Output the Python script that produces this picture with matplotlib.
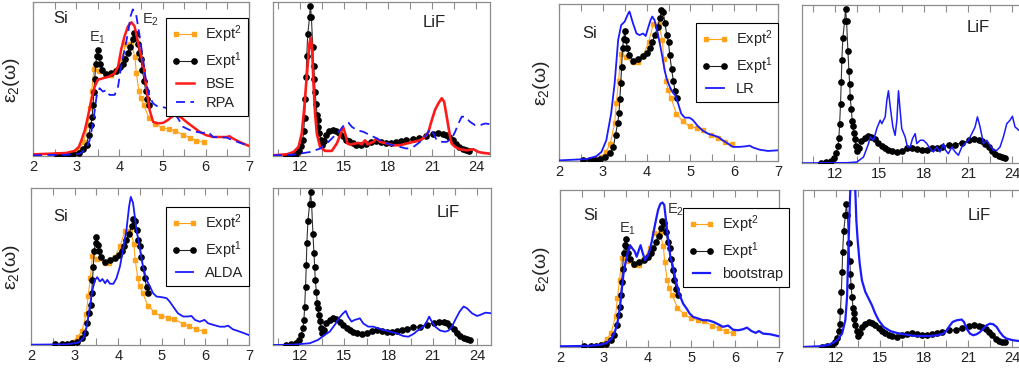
import matplotlib
matplotlib.use("Agg")
import matplotlib.pyplot as plt
from matplotlib.ticker import MultipleLocator

plt.rcParams['font.family'] = ['Liberation Sans', 'DejaVu Sans']
plt.rcParams['mathtext.fontset'] = 'custom'
plt.rcParams['mathtext.rm'] = 'Liberation Sans'
plt.rcParams['mathtext.it'] = 'Liberation Sans:italic'

# ---- Si: experiments (eV, eps2) ----
si_expt1_x = [2.55, 2.70, 2.82, 2.93, 3.06, 3.16, 3.24, 3.29, 3.34, 3.37, 3.39, 3.41, 3.43, 3.45,
              3.48, 3.50, 3.53, 3.56, 3.60, 3.69, 3.81, 3.92, 4.02, 4.08, 4.13, 4.19, 4.25, 4.31,
              4.34, 4.38, 4.42, 4.46, 4.50, 4.53, 4.57, 4.61, 4.65, 4.69]
si_expt1_y = [0.4, 0.3, 0.4, 0.7, 1.3, 2.6, 4.4, 8.3, 12.1, 15.3, 19.8, 24.9, 30.0, 36.0,
              39.0, 41.4, 38.4, 36.0, 33.6, 31.8, 32.4, 33.3, 34.5, 36.0, 37.8, 40.2, 42.6, 45.6,
              48.0, 47.4, 43.8, 40.2, 37.8, 33.6, 29.4, 25.5, 22.2, 20.0]
si_expt2_x = [2.55, 2.70, 2.84, 2.97, 3.07, 3.17, 3.27, 3.31, 3.36, 3.41, 3.52, 3.69, 3.80, 3.92,
              4.05, 4.15, 4.28, 4.36, 4.39, 4.45, 4.49, 4.56, 4.68, 4.83, 4.98, 5.14, 5.29, 5.48,
              5.63, 5.78, 5.96]
si_expt2_y = [0.2, 0.3, 0.5, 1.3, 2.9, 5.5, 12.0, 18.6, 25.5, 34.0, 33.0, 31.5, 31.5, 33.5,
              38.0, 43.5, 43.5, 38.5, 32.5, 25.5, 22.5, 20.0, 15.0, 12.6, 11.0, 10.5, 9.8, 8.2,
              7.2, 6.0, 5.3]

# ---- Si: theory ----
si_bse_x = [2.00, 2.39, 2.77, 2.96, 3.06, 3.12, 3.20, 3.27, 3.35, 3.43, 3.50, 3.62, 3.77, 3.89,
            3.97, 4.04, 4.12, 4.20, 4.28, 4.35, 4.47, 4.56, 4.62, 4.70, 4.78, 4.89, 5.01, 5.12,
            5.24, 5.32, 5.43, 5.55, 5.70, 5.86, 6.01, 6.17, 6.32, 6.48, 6.55, 6.63, 6.78, 7.00]
si_bse_y = [0.65, 0.9, 1.2, 2.0, 3.5, 6.1, 10.1, 15.3, 21.8, 27.1, 29.7, 30.3, 31.0, 32.3,
            34.9, 41.4, 46.7, 50.6, 52.1, 50.6, 41.4, 34.9, 27.1, 17.9, 13.3, 12.7, 12.9, 14.0,
            15.6, 15.9, 15.0, 13.3, 11.4, 9.4, 8.1, 7.4, 7.4, 7.4, 7.7, 6.8, 5.5, 3.9]
si_rpa_x = [2.00, 2.77, 3.08, 3.23, 3.31, 3.39, 3.47, 3.54, 3.62, 3.70, 3.77, 3.89, 3.97, 4.04,
            4.12, 4.20, 4.26, 4.31, 4.38, 4.47, 4.55, 4.62, 4.70, 4.78, 4.89, 5.01, 5.12, 5.24,
            5.36, 5.47, 5.63, 5.78, 5.94, 6.05, 6.17, 6.48, 6.63, 7.00]
si_rpa_y = [0.26, 0.5, 0.9, 2.9, 6.1, 12.7, 23.1, 26.4, 25.1, 25.7, 23.8, 23.8, 27.1, 34.9,
            41.4, 48.0, 54.5, 57.1, 55.8, 46.7, 37.5, 28.4, 23.1, 20.5, 19.2, 19.0, 18.6, 17.3,
            14.6, 11.4, 10.1, 9.4, 9.0, 9.4, 7.4, 7.2, 6.1, 3.9]
si_alda_x = [2.00, 2.82, 3.08, 3.20, 3.27, 3.35, 3.41, 3.47, 3.52, 3.58, 3.64, 3.70, 3.75, 3.81,
             3.89, 3.96, 4.04, 4.11, 4.19, 4.25, 4.29, 4.34, 4.42, 4.50, 4.57, 4.65, 4.73, 4.80,
             4.88, 4.99, 5.11, 5.18, 5.26, 5.37, 5.49, 5.60, 5.68, 5.76, 5.87, 5.98, 6.06, 6.18,
             6.33, 6.44, 6.52, 6.63, 6.79, 7.00]
si_alda_y = [0.13, 0.26, 0.9, 2.6, 6.4, 14.7, 21.1, 24.9, 25.9, 24.3, 25.2, 23.6, 24.9, 23.4,
             23.4, 25.5, 30.0, 36.4, 44.1, 53.0, 56.6, 54.3, 44.1, 36.4, 30.0, 24.9, 22.3, 19.8,
             18.5, 18.3, 17.9, 16.6, 14.7, 12.1, 10.9, 10.9, 11.1, 9.6, 8.9, 9.6, 8.3, 7.7,
             7.0, 7.0, 7.4, 6.0, 5.1, 3.8]
si_lr_x = [2.00, 2.62, 2.85, 2.97, 3.08, 3.19, 3.27, 3.35, 3.42, 3.50, 3.58, 3.61, 3.69, 3.77,
           3.84, 3.92, 3.98, 4.03, 4.09, 4.13, 4.18, 4.24, 4.30, 4.36, 4.41, 4.47, 4.53, 4.59,
           4.65, 4.72, 4.79, 4.87, 4.98, 5.06, 5.17, 5.29, 5.40, 5.52, 5.63, 5.74, 5.86, 5.97,
           6.12, 6.28, 6.35, 6.43, 6.58, 6.77, 7.00]
si_lr_y = [0.2, 0.6, 1.5, 2.9, 6.6, 15.1, 24.7, 38.5, 43.3, 44.4, 47.0, 47.6, 43.8, 40.6,
           40.1, 40.6, 39.8, 42.2, 44.9, 46.0, 44.9, 41.7, 37.5, 33.2, 28.9, 25.7, 23.6, 22.0,
           21.0, 18.3, 15.1, 13.8, 13.8, 13.0, 11.1, 9.6, 8.7, 8.2, 7.7, 6.6, 5.5, 4.5,
           4.5, 4.7, 4.9, 4.3, 3.6, 3.2, 3.4]
si_boot_x = [2.00, 2.61, 2.91, 3.06, 3.18, 3.25, 3.31, 3.37, 3.41, 3.45, 3.50, 3.56, 3.60, 3.65,
             3.71, 3.75, 3.80, 3.84, 3.88, 3.94, 4.01, 4.07, 4.13, 4.19, 4.24, 4.29, 4.34, 4.38,
             4.42, 4.47, 4.52, 4.58, 4.64, 4.72, 4.81, 4.89, 4.96, 5.04, 5.15, 5.27, 5.38, 5.50,
             5.61, 5.72, 5.84, 5.95, 6.07, 6.18, 6.27, 6.37, 6.47, 6.54, 6.64, 6.79, 7.00]
si_boot_y = [0.26, 0.4, 0.8, 1.5, 3.2, 5.7, 8.9, 15.3, 21.7, 28.1, 32.6, 37.0, 38.9, 37.7,
             36.4, 34.5, 37.0, 38.9, 36.4, 33.2, 35.1, 38.3, 43.4, 48.5, 52.4, 54.7, 55.2, 54.3,
             48.5, 40.9, 34.5, 30.6, 25.5, 20.4, 16.6, 14.7, 12.8, 11.5, 10.9, 10.2, 10.2, 9.6,
             8.7, 7.7, 8.2, 6.6, 6.4, 6.8, 7.4, 6.1, 5.4, 6.1, 5.1, 4.9, 4.1]

# ---- LiF: experiment ----
lif_expt_x = [11.05, 11.39, 11.73, 11.91, 12.07, 12.18, 12.25, 12.30, 12.36, 12.41, 12.45, 12.52,
              12.64, 12.70, 12.77, 12.86, 12.93, 12.98, 13.02, 13.09, 13.16, 13.20, 13.25, 13.32,
              13.41, 13.50, 13.61, 13.77, 14.00, 14.23, 14.45, 14.68, 14.91, 15.14, 15.36, 15.59,
              15.82, 16.16, 16.50, 16.84, 17.18, 17.52, 17.86, 18.20, 18.55, 18.89, 19.23, 19.68,
              20.14, 20.59, 21.05, 21.39, 21.73, 21.95, 22.18, 22.41, 22.64, 22.86, 23.09, 23.32,
              23.50]
lif_expt_y = [0.0, 0.04, 0.15, 0.32, 0.64, 1.06, 1.6, 2.45, 3.72, 5.1, 6.5, 7.9,
              9.0, 9.75, 9.0, 7.1, 5.85, 5.0, 4.15, 3.4, 2.66, 2.34, 1.9, 1.5,
              1.06, 0.74, 0.96, 1.38, 1.6, 1.7, 1.64, 1.49, 1.28, 1.06, 0.96, 0.85,
              0.74, 0.70, 0.79, 0.92, 0.96, 0.89, 0.85, 0.83, 0.92, 0.98, 1.04, 1.13,
              1.17, 1.28, 1.43, 1.49, 1.45, 1.38, 1.23, 1.02, 0.79, 0.57, 0.43, 0.36,
              0.32]

# ---- LiF: theory ----
lif_bse_x = [10.14, 11.09, 11.55, 11.89, 12.11, 12.27, 12.45, 12.64, 12.73, 12.82, 12.91, 13.02,
             13.14, 13.36, 13.70, 14.16, 14.50, 14.73, 14.86, 14.95, 15.07, 15.23, 15.41, 15.75,
             15.98, 16.20, 16.43, 16.59, 17.00, 17.23, 17.45, 17.91, 18.36, 18.82, 19.27, 19.73,
             20.18, 20.52, 20.75, 20.98, 21.20, 21.43, 21.66, 21.82, 22.00, 22.23, 22.34, 22.57,
             22.91, 23.36, 23.82, 24.16, 24.50, 24.95]
lif_bse_y = [0.04, 0.11, 0.26, 0.59, 1.46, 2.99, 5.16, 7.34, 7.67, 6.91, 4.73, 2.77,
             1.46, 0.59, 0.33, 0.33, 0.81, 1.35, 1.79, 1.85, 1.46, 0.81, 0.74, 0.81,
             0.85, 0.76, 1.02, 0.76, 0.92, 1.13, 0.92, 0.81, 0.70, 0.70, 0.81, 0.92,
             1.02, 1.24, 1.57, 2.33, 2.99, 3.42, 3.75, 3.53, 2.55, 1.24, 0.81, 0.59,
             0.44, 0.37, 0.44, 0.26, 0.20, 0.15]
lif_rpa_x = [10.14, 11.55, 12.68, 13.36, 13.82, 14.27, 14.73, 15.07, 15.30, 15.52, 15.86, 16.32,
             16.77, 17.11, 17.45, 17.91, 18.36, 18.82, 19.27, 19.73, 20.18, 20.52, 20.75, 20.91,
             21.09, 21.32, 21.66, 22.00, 22.34, 22.57, 22.80, 23.02, 23.25, 23.59, 23.93, 24.27,
             24.61, 24.95]
lif_rpa_y = [0.04, 0.09, 0.26, 0.48, 0.81, 1.24, 1.68, 2.11, 2.16, 1.90, 1.68, 1.57,
             1.35, 1.20, 1.02, 0.81, 0.70, 0.59, 0.48, 0.59, 0.92, 1.24, 1.57, 1.79,
             1.46, 1.02, 0.92, 0.92, 1.13, 1.57, 2.11, 2.55, 2.55, 2.22, 2.00, 2.00,
             2.11, 2.07]
lif_alda_x = [10.09, 11.50, 12.64, 13.20, 13.66, 14.00, 14.34, 14.68, 14.91, 15.09, 15.25, 15.48,
              15.70, 15.86, 16.05, 16.27, 16.61, 16.95, 17.30, 17.64, 18.09, 18.55, 19.00, 19.34,
              19.68, 20.02, 20.36, 20.59, 20.75, 20.93, 21.16, 21.50, 21.84, 22.07, 22.30, 22.52,
              22.82, 23.09, 23.32, 23.66, 24.00, 24.23, 24.57, 24.98]
lif_alda_y = [0.0, 0.02, 0.11, 0.32, 0.64, 0.85, 1.28, 1.77, 2.02, 2.17, 1.81, 1.49,
              1.60, 1.64, 1.70, 1.38, 1.17, 1.17, 1.06, 0.96, 0.85, 0.74, 0.57, 0.53,
              0.70, 0.96, 1.17, 1.49, 1.81, 1.49, 1.17, 0.92, 0.85, 0.92, 1.17, 1.60,
              2.13, 2.45, 2.34, 2.02, 1.85, 1.92, 2.06, 2.02]
lif_lr_x = [9.75, 12.79, 13.47, 13.92, 14.26, 14.37, 14.60, 14.82, 15.05, 15.16, 15.39, 15.50,
            15.61, 15.73, 15.91, 16.06, 16.18, 16.29, 16.40, 16.51, 16.74, 16.90, 17.08, 17.24,
            17.42, 17.53, 17.76, 17.98, 18.21, 18.43, 18.66, 18.88, 19.11, 19.34, 19.49, 19.67,
            19.90, 20.13, 20.35, 20.58, 20.80, 21.03, 21.26, 21.48, 21.64, 21.82, 22.05, 22.27,
            22.50, 22.72, 22.95, 23.17, 23.40, 23.63, 23.85, 24.01, 24.19, 24.46, 25.00]
lif_lr_y = [0.0, 0.02, 0.06, 0.38, 1.23, 1.65, 1.44, 2.18, 2.71, 2.49, 2.92, 3.97,
            4.57, 3.55, 2.28, 1.75, 2.71, 4.57, 3.34, 2.18, 1.65, 1.01, 1.01, 1.54,
            1.86, 1.23, 1.44, 1.44, 1.23, 0.91, 0.70, 1.01, 0.70, 1.23, 0.80, 0.59,
            1.01, 0.70, 0.49, 1.01, 1.23, 1.44, 1.86, 2.28, 2.92, 2.28, 1.23, 1.44,
            1.12, 0.80, 0.80, 1.01, 1.65, 2.49, 2.71, 2.96, 2.28, 2.07, 1.90]
lif_boot_x = [9.76, 10.94, 11.62, 12.07, 12.41, 12.63, 12.75, 12.81, 12.90, 12.97, 13.13, 13.31,
              13.38, 13.47, 13.61, 13.76, 13.99, 14.22, 14.44, 14.67, 14.90, 15.24, 15.69, 16.14,
              16.59, 17.05, 17.50, 17.95, 18.40, 18.86, 19.31, 19.53, 19.76, 19.94, 20.21, 20.55,
              20.71, 20.89, 21.12, 21.34, 21.57, 21.80, 22.02, 22.25, 22.48, 22.70, 22.93, 23.15,
              23.38, 23.61, 24.06, 24.44, 25.00]
lif_boot_y = [0.0, 0.05, 0.18, 0.46, 0.91, 1.82, 3.42, 5.69, 8.65, 10.7, 14.0, 10.7,
              8.65, 7.29, 5.69, 4.55, 3.76, 3.30, 2.85, 2.28, 1.82, 1.37, 1.09, 0.96,
              0.87, 0.80, 0.75, 0.75, 0.75, 0.80, 0.91, 1.14, 1.48, 1.71, 1.82, 1.87,
              1.71, 1.25, 0.91, 0.80, 0.87, 1.02, 1.25, 1.48, 1.59, 1.55, 1.37, 1.02,
              0.73, 0.57, 0.46, 0.41, 0.38]

ORANGE = '#ffa31a'
RED = '#ff1a1a'
BLUE = '#1a1aff'
GRAY = '#8c8c8c'
TXT = '#222222'

W, H = 1019, 374
fig = plt.figure(figsize=(W / 100, H / 100), dpi=100)


def make_ax(l, t, r, b, xlim, ylim, kind):
    ax = fig.add_axes([l / W, 1 - b / H, (r - l) / W, (b - t) / H])
    ax.set_xlim(*xlim)
    ax.set_ylim(*ylim)
    for s in ax.spines.values():
        s.set_color(GRAY)
        s.set_linewidth(0.9)
    if kind == 'si':
        ax.xaxis.set_major_locator(MultipleLocator(1))
        ax.xaxis.set_minor_locator(MultipleLocator(0.5))
    else:
        ax.set_xticks([12, 15, 18, 21, 24])
        ax.xaxis.set_minor_locator(MultipleLocator(1.5))
    ax.tick_params(axis='x', which='both', direction='in', top=True, bottom=True,
                   color=GRAY, length=5, width=0.8, labelsize=10.5, pad=3,
                   labelcolor=TXT)
    ax.set_yticks([])
    return ax


def plot_expt_si(ax):
    ax.plot(si_expt2_x, si_expt2_y, '-s', color=ORANGE, lw=0.8, ms=3.3, mec=ORANGE,
            label='Expt$^2$', zorder=2)
    ax.plot(si_expt1_x, si_expt1_y, '-o', color='#222222', lw=0.8, ms=3.8, mfc='black',
            mec='black', label='Expt$^1$', zorder=3)


def plot_expt_lif(ax):
    ax.plot(lif_expt_x, lif_expt_y, '-o', color='#333333', lw=0.8, ms=3.8, mfc='black',
            mec='black', zorder=3)


def add_legend(ax, x, y):
    leg = ax.legend(loc='upper right', bbox_to_anchor=(x, y), borderaxespad=0,
                    fontsize=10.5, numpoints=2, handlelength=1.8, handletextpad=0.5,
                    fancybox=False, framealpha=1, edgecolor='black', borderpad=0.4,
                    labelspacing=0.35)
    leg.get_frame().set_linewidth(0.8)
    for t in leg.get_texts():
        t.set_color(TXT)


# ---- left group ----
ax = make_ax(33, 2, 249, 156, (2, 7), (0, 60), 'si')
plot_expt_si(ax)
ax.plot(si_bse_x, si_bse_y, color=RED, lw=1.8, label='BSE', zorder=4)
ax.plot(si_rpa_x, si_rpa_y, '--', color=BLUE, lw=1.3, dashes=(5, 3), label='RPA', zorder=4)
add_legend(ax, 0.995, 0.896)
ax.text(0.093, 0.89, 'Si', transform=ax.transAxes, fontsize=12, va='center', color=TXT)
ax.text(3.5, 46, 'E$_1$', fontsize=10.5, color='#333333', ha='center', va='center')
ax.text(4.71, 53, 'E$_2$', fontsize=10.5, color='#333333', ha='center', va='center')

ax = make_ax(273, 2, 490, 156, (10.15, 24.95), (0, 10), 'lif')
plot_expt_lif(ax)
ax.plot(lif_bse_x, lif_bse_y, color=RED, lw=1.9, zorder=4)
ax.plot(lif_rpa_x, lif_rpa_y, '--', color=BLUE, lw=1.3, dashes=(5, 3), zorder=4)
ax.text(0.69, 0.867, 'LiF', transform=ax.transAxes, fontsize=12, va='center', color=TXT)

ax = make_ax(31, 188, 249, 345, (2, 7), (0, 60), 'si')
plot_expt_si(ax)
ax.plot(si_alda_x, si_alda_y, color=BLUE, lw=1.3, label='ALDA', zorder=4)
add_legend(ax, 1.0, 0.879)
ax.text(0.10, 0.82, 'Si', transform=ax.transAxes, fontsize=12, va='center', color=TXT)

ax = make_ax(273, 188, 491, 345, (10.15, 24.95), (0, 10), 'lif')
plot_expt_lif(ax)
ax.plot(lif_alda_x, lif_alda_y, color=BLUE, lw=1.3, zorder=4)
ax.text(0.75, 0.844, 'LiF', transform=ax.transAxes, fontsize=12, va='center', color=TXT)

# ---- right group ----
ax = make_ax(559, 4, 778, 161, (2, 7), (0, 50), 'si')
plot_expt_si(ax)
ax.plot(si_lr_x, si_lr_y, color=BLUE, lw=1.3, label='LR', zorder=4)
add_legend(ax, 1.0, 0.879)
ax.text(0.105, 0.815, 'Si', transform=ax.transAxes, fontsize=12, va='center', color=TXT)

ax = make_ax(802, 5, 1027, 163, (9.75, 25), (0, 10), 'lif')
plot_expt_lif(ax)
ax.plot(lif_lr_x, lif_lr_y, color=BLUE, lw=1.1, zorder=4)
ax.text(0.733, 0.86, 'LiF', transform=ax.transAxes, fontsize=12, va='center', color=TXT)

ax = make_ax(560, 190, 779, 347, (2, 7), (0, 60), 'si')
plot_expt_si(ax)
ax.plot(si_boot_x, si_boot_y, color=BLUE, lw=1.6, label='bootstrap', zorder=4)
add_legend(ax, 1.046, 0.885)
ax.text(0.105, 0.84, 'Si', transform=ax.transAxes, fontsize=12, va='center', color=TXT)
ax.text(3.55, 45, 'E$_1$', fontsize=10.5, color='#333333', ha='center', va='center')
ax.text(4.63, 52.4, 'E$_2$', fontsize=10.5, color='#333333', ha='center', va='center')

ax = make_ax(803, 190, 1027, 347, (9.75, 25), (0, 10.7), 'lif')
plot_expt_lif(ax)
ax.plot(lif_boot_x, lif_boot_y, color=BLUE, lw=1.6, zorder=4)
ax.text(0.737, 0.84, 'LiF', transform=ax.transAxes, fontsize=12, va='center', color=TXT)

# y labels
for (px, py) in [(12, 80), (12, 267), (542, 83), (542, 269)]:
    fig.text(px / W, 1 - py / H, 'ε$_2$(ω)', rotation=90, fontsize=14,
             ha='center', va='center', color=TXT)

fig.savefig('out.png', dpi=100)
